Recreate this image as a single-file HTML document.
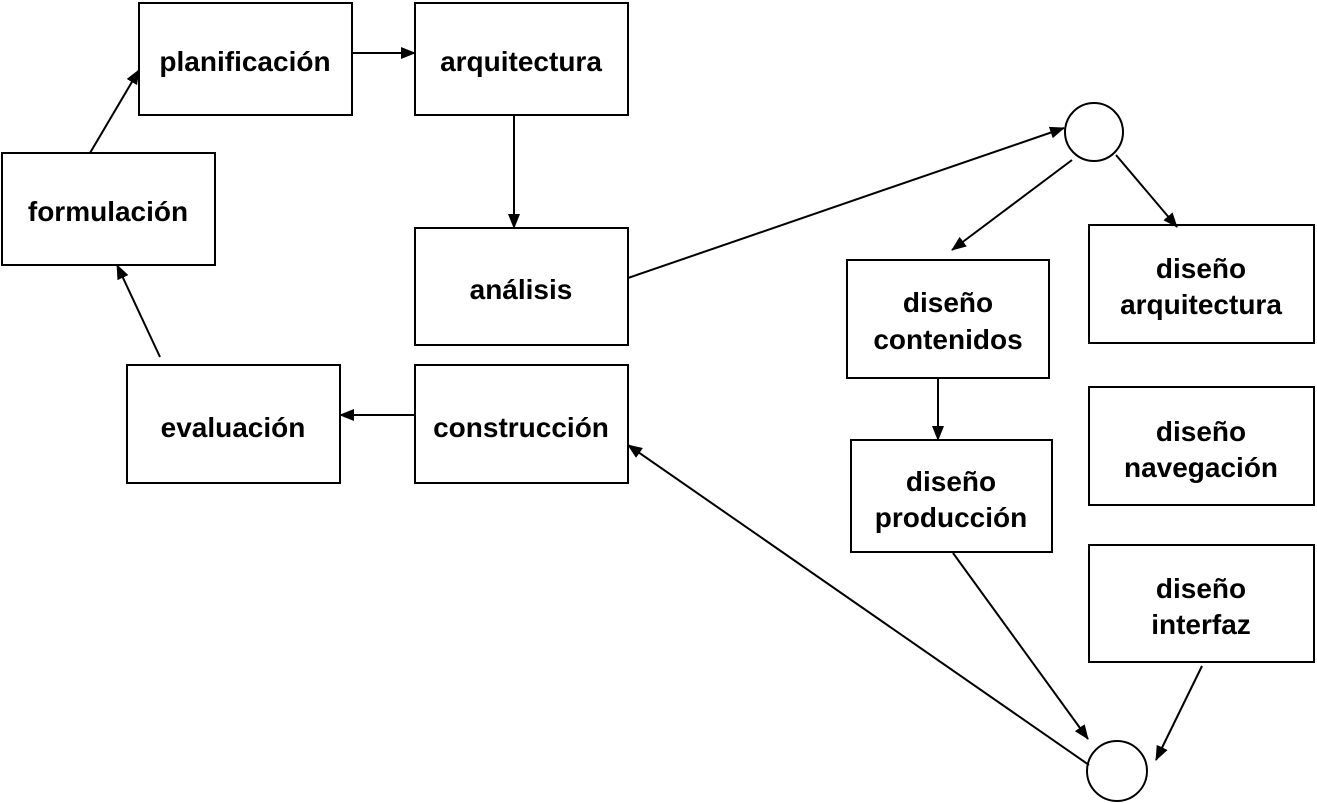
<!DOCTYPE html>
<html><head><meta charset="utf-8"><style>
html,body{margin:0;padding:0;background:#fff;}
svg{display:block}
text{font-family:"Liberation Sans",Arial,sans-serif;font-weight:bold;font-size:28px;fill:#000;text-anchor:middle;}
</style></head><body>
<svg width="1317" height="803" viewBox="0 0 1317 803" xmlns="http://www.w3.org/2000/svg">
<defs><marker id="a" markerWidth="15" markerHeight="12" refX="14" refY="6" orient="auto" markerUnits="userSpaceOnUse"><path d="M0,0 L15,6 L0,12 z" fill="#000"/></marker></defs>
<g fill="#fff" stroke="#000" stroke-width="2">
<rect x="139" y="3" width="213" height="112"/>
<rect x="415" y="3" width="213" height="112"/>
<rect x="2" y="153" width="213" height="112"/>
<rect x="415" y="228" width="213" height="117"/>
<rect x="127" y="365" width="213" height="118"/>
<rect x="415" y="365" width="213" height="118"/>
<rect x="847" y="260" width="202" height="118"/>
<rect x="1089" y="225" width="225" height="118"/>
<rect x="1089" y="387" width="225" height="118"/>
<rect x="851" y="440" width="201" height="112"/>
<rect x="1089" y="545" width="225" height="117"/>
<circle cx="1094" cy="132" r="29"/>
<circle cx="1117" cy="771" r="30"/>
</g>
<g stroke="#000" stroke-width="2" fill="none" marker-end="url(#a)">
<line x1="90" y1="153" x2="139" y2="70"/>
<line x1="352" y1="53" x2="415" y2="53"/>
<line x1="514" y1="115" x2="514" y2="228"/>
<line x1="628" y1="278" x2="1064" y2="128"/>
<line x1="1072" y1="160" x2="952" y2="250"/>
<line x1="1116" y1="155" x2="1177" y2="227"/>
<line x1="938" y1="378" x2="938" y2="440"/>
<line x1="953" y1="553" x2="1088" y2="739"/>
<line x1="1202" y1="666" x2="1156" y2="760"/>
<line x1="1089" y1="765" x2="628" y2="445"/>
<line x1="415" y1="415" x2="340" y2="415"/>
<line x1="160" y1="357" x2="117" y2="265"/>
</g>
<text x="245" y="71">planificación</text>
<text x="521" y="71">arquitectura</text>
<text x="108" y="221">formulación</text>
<text x="521" y="299">análisis</text>
<text x="233" y="437">evaluación</text>
<text x="521" y="437">construcción</text>
<text x="948" y="312">diseño</text>
<text x="948" y="349">contenidos</text>
<text x="1201" y="278">diseño</text>
<text x="1201" y="314">arquitectura</text>
<text x="1201" y="441">diseño</text>
<text x="1201" y="477">navegación</text>
<text x="951" y="491">diseño</text>
<text x="951" y="527">producción</text>
<text x="1201" y="598">diseño</text>
<text x="1201" y="634">interfaz</text>
</svg>
</body></html>
